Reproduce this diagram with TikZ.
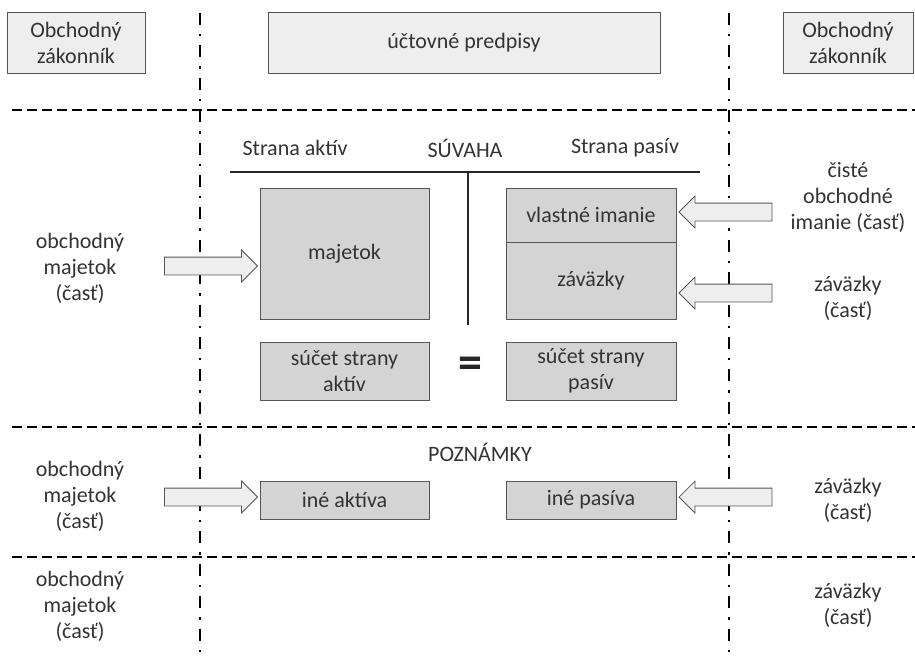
\documentclass[tikz,border=0pt]{standalone}
\usepackage{fontspec}
\setmainfont{Carlito}
\usetikzlibrary{shapes.arrows}
\definecolor{txtgray}{HTML}{333333}
\definecolor{lightbox}{HTML}{EEEEEE}
\definecolor{darkbox}{HTML}{D4D4D4}
\definecolor{edgegray}{HTML}{555555}
\tikzset{
  lawbox/.style={draw=edgegray, fill=lightbox, line width=0.8pt, align=center, inner sep=0pt},
  accbox/.style={draw=edgegray, fill=darkbox, line width=0.8pt, align=center, inner sep=0pt},
  lbl/.style={align=center, inner sep=0pt},
  blkarrow/.style={single arrow, draw=edgegray, fill=lightbox, line width=0.8pt,
    inner xsep=0pt, inner ysep=8.5pt, text height=0pt, text depth=0pt,
    minimum height=93pt, single arrow head extend=7pt},
  sepline/.style={line width=2pt, dash pattern=on 10pt off 5pt},
  colline/.style={line width=2.4pt, dash pattern=on 12pt off 9pt on 2.4pt off 9pt},
}
\begin{document}
\begin{tikzpicture}[x=1pt, y=-1pt, font=\fontsize{22}{26}\selectfont, text=txtgray]
		\useasboundingbox (0,0) rectangle (915,656);
		% separators
		\draw[sepline] (12,110) -- (915,110);
		\draw[sepline] (12,427) -- (915,427);
		\draw[sepline] (12,557) -- (915,557);
		\draw[colline] (200,13) -- (200,656);
		\draw[colline] (729,13) -- (729,656);
		% top row
		\node[lawbox, minimum width=138pt, minimum height=61pt] (lzak) at (76,42.5) {Obchodný\\zákonník};
		\node[lawbox, minimum width=392pt, minimum height=61pt] (predpisy) at (464,42.5) {účtovné predpisy};
		\node[lawbox, minimum width=130pt, minimum height=61pt] (rzak) at (848,42.5) {Obchodný\\zákonník};
		% suvaha
		\node[lbl] (straktiv) at (295,148) {Strana aktív};
		\node[lbl] (suvaha) at (465,148) {SÚVAHA};
		\node[lbl] (strpasiv) at (625,148) {Strana pasív};
		\coordinate (tl) at (230,172);
		\coordinate (tr) at (700,172);
		\coordinate (tm) at (468,172);
		\coordinate (tb) at (468,325);
		\draw[line width=2.4pt, black!85] (tl) -- (tr);
		\draw[line width=2.4pt, black!85] (tm) -- (tb);
		\node[accbox, minimum width=169pt, minimum height=131pt] (majetok) at (344.5,253.5) {majetok};
		\node[accbox, minimum width=170pt, minimum height=54pt] (imanie) at (591,215) {vlastné imanie};
		\node[accbox, minimum width=170pt, minimum height=77pt] (zavazky) at (591,280.5) {záväzky};
		\node[accbox, minimum width=169pt, minimum height=58pt] (sucetA) at (344.5,371) {súčet strany\\aktív};
		\node[accbox, minimum width=170pt, minimum height=58pt] (sucetP) at (591,371) {súčet strany\\pasív};
		\node[lbl, font=\fontsize{48}{48}\selectfont\bfseries, text=black!85] (rovna) at (470,368) {=};
		% labels suvaha
		\node[lbl] (obm1) at (80,268) {obchodný\\majetok\\(časť)};
		\node[lbl] (cisto) at (848,197) {čisté\\obchodné\\imanie (časť)};
		\node[lbl] (zav1) at (848,298) {záväzky\\(časť)};
		\node[blkarrow] (a1) at (206.5,266) {};
		\node[blkarrow, shape border rotate=180] (a2) at (730,212) {};
		\node[blkarrow, shape border rotate=180] (a3) at (730,293) {};
		% poznamky
		\node[lbl] (pozn) at (480,452) {POZNÁMKY};
		\node[accbox, minimum width=169pt, minimum height=38pt] (ineA) at (344.5,500) {iné aktíva};
		\node[accbox, minimum width=170pt, minimum height=38pt] (ineP) at (591,500) {iné pasíva};
		\node[lbl] (obm2) at (80,496) {obchodný\\majetok\\(časť)};
		\node[lbl] (zav2) at (848,500) {záväzky\\(časť)};
		\node[blkarrow] (a4) at (206.5,497) {};
		\node[blkarrow, shape border rotate=180] (a5) at (730,497) {};
		% bottom row
		\node[lbl] (obm3) at (80,606) {obchodný\\majetok\\(časť)};
		\node[lbl] (zav3) at (848,605) {záväzky\\(časť)};
	\end{tikzpicture}
\end{document}
